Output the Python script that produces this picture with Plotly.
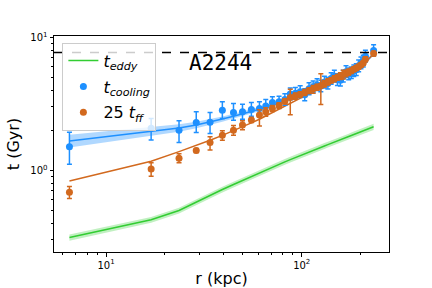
import plotly.graph_objects as go

# ---- data ----
r_kpc = [6.5, 17.0, 23.6, 28.9, 34.0, 39.3, 44.8, 49.8, 55.3, 60.8, 65.5, 70.8, 76.6,
         82.0, 87.4, 92.8, 98.2, 103.6, 109.0, 114.4, 119.8, 125.2, 130.6, 136.0, 141.4,
         146.8, 152.2, 157.6, 163.0, 168.4, 173.8, 179.2, 184.6, 190.0, 195.4, 200.8,
         206.2, 211.6, 233.0]

t_cool = [1.50, 2.07, 2.00, 2.29, 2.30, 2.83, 2.72, 2.76, 2.87, 2.92, 3.05, 3.24, 3.27,
          3.40, 3.75, 3.80, 3.90, 3.70, 4.10, 4.25, 4.40, 4.30, 4.60, 4.50, 4.90,
          5.10, 4.80, 4.75, 5.10, 5.50, 5.30, 5.40, 5.60, 5.70, 6.10, 6.40,
          6.60, 7.20, 7.95]
cool_eplus = [0.43, 0.38, 0.36, 0.46, 0.42, 0.44, 0.46, 0.38, 0.36, 0.36, 0.35, 0.34, 0.34,
              0.36, 0.40, 0.40, 0.42, 0.40, 0.45, 0.45, 0.48, 0.46, 0.50, 0.48, 0.52,
              0.55, 0.52, 0.50, 0.55, 0.60, 0.58, 0.58, 0.60, 0.62, 0.66, 0.70,
              0.72, 0.78, 0.85]
cool_eminus = [0.39, 0.38, 0.38, 0.37, 0.41, 0.38, 0.34, 0.34, 0.32, 0.32, 0.32, 0.30, 0.30,
               0.32, 0.36, 0.36, 0.38, 0.36, 0.40, 0.40, 0.42, 0.40, 0.44, 0.42, 0.46,
               0.48, 0.45, 0.44, 0.48, 0.52, 0.50, 0.50, 0.52, 0.54, 0.58, 0.60,
               0.62, 0.68, 0.72]

t_ff25 = [0.684, 1.02, 1.23, 1.41, 1.62, 1.83, 2.00, 2.19, 2.39, 2.60, 2.75, 2.92, 3.07,
          3.30, 3.52, 3.62, 3.72, 3.85, 3.98, 4.10, 4.22, 4.32, 4.48, 4.62, 4.75,
          4.88, 5.00, 5.12, 5.25, 5.36, 5.48, 5.60, 5.75, 5.88, 6.02, 6.20,
          6.40, 6.85, 7.55]
ff_eplus = [0.07, 0.12, 0.10, 0.05, 0.17, 0.15, 0.17, 0.17, 0.10, 0.25, 0.20, 0.15, 0.15,
            0.15, 0.55, 0.20, 0.18, 0.20, 0.20, 0.25, 0.22, 1.00, 0.25, 0.25, 0.22,
            0.25, 0.25, 0.30, 0.40, 0.30, 0.30, 0.25, 0.25, 0.25, 0.25, 0.25,
            0.25, 0.30, 0.30]
ff_eminus = [0.07, 0.12, 0.09, 0.05, 0.20, 0.15, 0.17, 0.17, 0.10, 0.45, 0.20, 0.15, 0.15,
             0.15, 0.90, 0.20, 0.18, 0.20, 0.20, 0.30, 0.22, 1.20, 0.25, 0.25, 0.22,
             0.25, 0.25, 0.30, 0.40, 0.30, 0.30, 0.25, 0.25, 0.25, 0.25, 0.25,
             0.25, 0.30, 0.30]

cool_fit = [1.66, 1.96, 2.08, 2.19, 2.30, 2.43, 2.55, 2.65, 2.76, 2.88, 2.99, 3.10, 3.20,
            3.35, 3.50, 3.62, 3.74, 3.86, 3.98, 4.10, 4.22, 4.34, 4.46, 4.58, 4.70,
            4.82, 4.93, 5.05, 5.17, 5.29, 5.41, 5.53, 5.65, 5.78, 5.92, 6.08,
            6.25, 6.45, 7.55]
cool_fit_lo = [1.48, 1.81, 1.95, 2.07, 2.19, 2.32, 2.45, 2.55, 2.66, 2.78, 2.89, 3.00, 3.10,
               3.25, 3.40, 3.52, 3.64, 3.76, 3.88, 4.00, 4.12, 4.23, 4.35, 4.47, 4.59,
               4.70, 4.81, 4.93, 5.05, 5.16, 5.28, 5.40, 5.51, 5.64, 5.77, 5.93,
               6.09, 6.29, 7.33]
cool_fit_hi = [1.85, 2.12, 2.22, 2.32, 2.42, 2.54, 2.66, 2.76, 2.87, 2.99, 3.10, 3.21, 3.31,
               3.46, 3.61, 3.73, 3.85, 3.97, 4.09, 4.21, 4.33, 4.45, 4.58, 4.70, 4.82,
               4.94, 5.06, 5.18, 5.30, 5.42, 5.55, 5.67, 5.80, 5.93, 6.07, 6.24,
               6.42, 6.62, 7.78]

ff_fit = [0.83, 1.17, 1.38, 1.53, 1.68, 1.83, 1.98, 2.12, 2.27, 2.42, 2.56, 2.70, 2.86,
          3.02, 3.17, 3.32, 3.46, 3.60, 3.75, 3.89, 4.03, 4.17, 4.31, 4.45, 4.59,
          4.73, 4.87, 5.01, 5.15, 5.29, 5.43, 5.57, 5.71, 5.85, 6.00, 6.15,
          6.32, 6.55, 7.45]

t_eddy = [0.312, 0.424, 0.498, 0.577, 0.646, 0.716, 0.782, 0.839, 0.902, 0.961, 1.007, 1.057, 1.109,
          1.156, 1.202, 1.247, 1.291, 1.341, 1.377, 1.416, 1.452, 1.489, 1.524, 1.560, 1.592,
          1.626, 1.660, 1.694, 1.729, 1.762, 1.795, 1.828, 1.858, 1.892, 1.923, 1.954,
          1.982, 2.014, 2.123]
eddy_frac = [0.055, 0.05, 0.05, 0.05, 0.05, 0.05, 0.05, 0.05, 0.05, 0.05, 0.05, 0.05, 0.05,
             0.05, 0.05, 0.05, 0.05, 0.05, 0.05, 0.05, 0.05, 0.05, 0.05, 0.05, 0.05,
             0.05, 0.05, 0.05, 0.05, 0.05, 0.05, 0.05, 0.05, 0.05, 0.05, 0.05,
             0.05, 0.05, 0.055]

t_age = 7.7
cluster_name = "A2244"

x_ticks = [10, 100]
x_ticktext = ["10<sup>1</sup>", "10<sup>2</sup>"]
x_minor = [6, 7, 8, 9, 20, 30, 40, 50, 60, 70, 80, 90, 200]
y_ticks = [1, 10]
y_ticktext = ["10<sup>0</sup>", "10<sup>1</sup>"]
y_minor = [0.3, 0.4, 0.5, 0.6, 0.7, 0.8, 0.9, 2, 3, 4, 5, 6, 7, 8, 9]

BLUE = "#1E90FF"
ORANGE = "#D2691E"
GREEN = "#32CD32"

eddy_lo = [t * (1 - f) for t, f in zip(t_eddy, eddy_frac)]
eddy_hi = [t * (1 + f) for t, f in zip(t_eddy, eddy_frac)]

fig = go.Figure()

# bands
fig.add_trace(go.Scatter(x=r_kpc, y=eddy_lo, mode="lines", line=dict(width=0),
                         showlegend=False, hoverinfo="skip"))
fig.add_trace(go.Scatter(x=r_kpc, y=eddy_hi, mode="lines", line=dict(width=0),
                         fill="tonexty", fillcolor="rgba(50,205,50,0.3)",
                         showlegend=False, hoverinfo="skip"))
fig.add_trace(go.Scatter(x=r_kpc, y=t_eddy, mode="lines", line=dict(color=GREEN, width=1.5),
                         name="<i>t</i><sub><i>eddy</i></sub>", legendgroup="a", legendrank=1))

fig.add_trace(go.Scatter(x=r_kpc, y=cool_fit_lo, mode="lines", line=dict(width=0),
                         showlegend=False, hoverinfo="skip"))
fig.add_trace(go.Scatter(x=r_kpc, y=cool_fit_hi, mode="lines", line=dict(width=0),
                         fill="tonexty", fillcolor="rgba(30,144,255,0.35)",
                         showlegend=False, hoverinfo="skip"))
fig.add_trace(go.Scatter(x=r_kpc, y=cool_fit, mode="lines", line=dict(color=BLUE, width=1.5),
                         showlegend=False))
fig.add_trace(go.Scatter(x=r_kpc, y=ff_fit, mode="lines", line=dict(color=ORANGE, width=1.5),
                         showlegend=False))

fig.add_trace(go.Scatter(
    x=r_kpc, y=t_cool, mode="markers",
    marker=dict(color=BLUE, size=7),
    error_y=dict(type="data", symmetric=False, array=cool_eplus, arrayminus=cool_eminus,
                 color=BLUE, thickness=1.5, width=2.5),
    name="<i>t</i><sub><i>cooling</i></sub>", legendgroup="b", legendrank=2))
fig.add_trace(go.Scatter(
    x=r_kpc, y=t_ff25, mode="markers",
    marker=dict(color=ORANGE, size=7),
    error_y=dict(type="data", symmetric=False, array=ff_eplus, arrayminus=ff_eminus,
                 color=ORANGE, thickness=1.5, width=2.5),
    name="25 <i>t</i><sub><i>ff</i></sub>", legendgroup="c", legendrank=3))

fig.add_hline(y=t_age, line=dict(color="black", width=1.5, dash="dash"))

fig.add_annotation(text=cluster_name, xref="paper", yref="paper", x=0.496, y=0.873,
                   showarrow=False, xanchor="center", yanchor="middle",
                   font=dict(family="DejaVu Sans Mono", size=21, color="black"))

axis_common = dict(showline=True, linecolor="black", linewidth=1, mirror=True,
                   ticks="outside", ticklen=3.5, tickwidth=1, tickcolor="black",
                   showgrid=False, zeroline=False, automargin=False,
                   tickfont=dict(family="DejaVu Sans", size=10, color="black"))

fig.update_xaxes(type="log", range=[0.734, 2.446], tickvals=x_ticks, ticktext=x_ticktext,
                 minor=dict(tickvals=x_minor, ticks="outside", ticklen=2, tickcolor="black",
                            showgrid=False),
                 title=dict(text="r (kpc)", font=dict(family="DejaVu Sans", size=16, color="black"),
                            standoff=12),
                 **axis_common)
fig.update_yaxes(type="log", range=[-0.615, 1.01], tickvals=y_ticks, ticktext=y_ticktext,
                 minor=dict(tickvals=y_minor, ticks="outside", ticklen=2, tickcolor="black",
                            showgrid=False),
                 title=dict(text="t (Gyr)", font=dict(family="DejaVu Sans", size=16, color="black"),
                            standoff=6),
                 **axis_common)

fig.update_layout(
    width=432, height=288,
    margin=dict(l=54, r=43, t=36, b=36),
    paper_bgcolor="white", plot_bgcolor="white",
    font=dict(family="DejaVu Sans", color="black"),
    legend=dict(x=0.025, y=0.969, xanchor="left", yanchor="top",
                bgcolor="rgba(255,255,255,0.8)", bordercolor="#cccccc", borderwidth=1,
                font=dict(family="DejaVu Sans", size=16, color="black"),
                traceorder="grouped", tracegroupgap=2, itemwidth=30),
)

fig.write_html("out.html", config={"displayModeBar": False},
               post_script="document.body.style.margin='0';document.body.style.overflow='hidden';")
